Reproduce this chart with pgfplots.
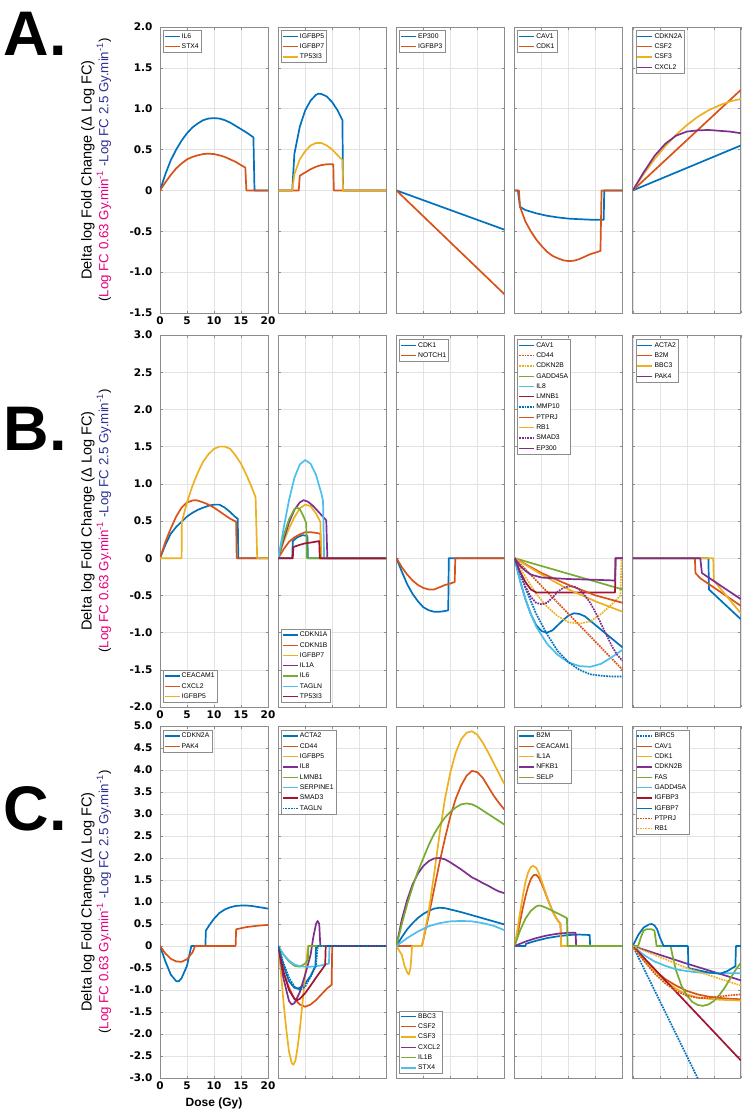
\documentclass[border=0pt]{standalone}
\usepackage{pgfplots}
\pgfplotsset{compat=1.18}
\usepackage{fontspec}
\setmainfont{Liberation Sans}
\newfontfamily\tickfont{DejaVu Sans}
\definecolor{c1}{RGB}{0,114,189}
\definecolor{c2}{RGB}{217,83,25}
\definecolor{c3}{RGB}{237,177,32}
\definecolor{c4}{RGB}{126,47,142}
\definecolor{c5}{RGB}{119,172,48}
\definecolor{c6}{RGB}{77,190,238}
\definecolor{c7}{RGB}{162,20,47}
\definecolor{mag}{RGB}{228,0,124}
\definecolor{nav}{RGB}{46,49,146}
\pgfplotsset{
  base/.style={scale only axis, width=108pt, xmin=0, xmax=20, xtick={0,5,10,15,20},
    xticklabels={}, yticklabels={}, grid=major,
    major grid style={draw=black!11, line width=0.45pt},
    axis line style={draw=black!45, line width=0.8pt},
    tick style={draw=black!45, line width=0.5pt}, major tick length=2.5pt, tick align=inside,
    anchor=north west,
    every axis plot/.append style={line width=1.7pt, line join=round},
    legend cell align=left,
    legend style={font=\fontsize{6.8}{7}\selectfont, draw=black!45, line width=0.45pt, fill=white,
      at={(0.025,0.988)}, anchor=north west, inner xsep=1pt, inner ysep=0.5pt,
      nodes={text height=5pt, text depth=1.3pt, inner ysep=2pt, inner xsep=1.5pt}},
    legend image code/.code={\draw[##1, line width=1.3pt] (0pt,0pt) -- (15pt,0pt);},
    ticklabel style={font=\tickfont\bfseries\fontsize{10.5}{12}\selectfont},
    yticklabel style={xshift=-4pt},
  },
  sw/.style={legend style={at={(0.025,0.012)}, anchor=south west}},
  rowA/.style={base, height=286pt, ymin=-1.5, ymax=2, ytick={-1.5,-1,-0.5,0,0.5,1,1.5,2}},
  rowB/.style={base, height=372pt, ymin=-2, ymax=3, ytick={-2,-1.5,-1,-0.5,0,0.5,1,1.5,2,2.5,3}},
  rowC/.style={base, height=352pt, ymin=-3, ymax=5, ytick={-3,-2.5,-2,-1.5,-1,-0.5,0,0.5,1,1.5,2,2.5,3,3.5,4,4.5,5}},
  xlab/.style={xticklabels={0,5,10,15,20}},
}
\begin{document}
\begin{tikzpicture}
\useasboundingbox (0,0) rectangle (744pt,-1114pt);
% ---------- labels ----------
\node[font=\bfseries\fontsize{63}{63}\selectfont, anchor=west] at (0pt,-34pt) {A.};
\node[font=\bfseries\fontsize{63}{63}\selectfont, anchor=west] at (0pt,-429pt) {B.};
\node[font=\bfseries\fontsize{63}{63}\selectfont, anchor=west] at (0pt,-809pt) {C.};
\foreach \yc in {170,521,902}{
  \node[rotate=90, font=\fontsize{14.5}{16}\selectfont] at (88pt,-\yc pt) {Delta log Fold Change (Δ Log FC)};
  \node[rotate=90, font=\fontsize{13.3}{15}\selectfont] at (104pt,-\yc pt) {(\textcolor{mag}{Log FC 0.63 Gy.min\textsuperscript{-1}} \textcolor{nav}{-Log FC 2.5 Gy.min\textsuperscript{-1}})};
}
\node[font=\bfseries\fontsize{12}{14}\selectfont] at (214pt,-1103pt) {Dose (Gy)};
% ================= ROW A =================
\begin{axis}[rowA, xlab, at={(160pt,-27pt)}, yticklabels={-1.5,-1.0,-0.5,0,0.5,1.0,1.5,2.0}]
\addplot[c1] coordinates {(0,0)(1,0.2)(2,0.37)(3,0.5)(4,0.61)(5,0.7)(6,0.77)(7,0.82)(8,0.86)(9,0.88)(10,0.885)(11,0.88)(12,0.86)(13,0.83)(14,0.79)(15,0.75)(16,0.71)(17.3,0.65)(17.5,0)(20,0)};
\addplot[c2] coordinates {(0,0)(1,0.1)(2,0.19)(3,0.27)(4,0.33)(5,0.38)(6,0.41)(7,0.43)(8,0.445)(9,0.45)(10,0.445)(11,0.43)(12,0.41)(13,0.38)(14,0.35)(15,0.31)(15.8,0.28)(16,0)(20,0)};
\legend{IL6,STX4}
\end{axis}
\begin{axis}[rowA, at={(278.2pt,-27pt)}]
\addplot[c1] coordinates {(0,0)(2.6,0)(3,0.45)(4,0.78)(5,0.98)(6,1.1)(7,1.17)(7.5,1.185)(8,1.18)(9,1.15)(10,1.08)(11,0.98)(11.9,0.86)(12,0)(20,0)};
\addplot[c2] coordinates {(0,0)(3.8,0)(4,0.18)(5,0.22)(6,0.26)(7,0.29)(8,0.31)(9,0.32)(10.2,0.32)(10.3,0)(20,0)};
\addplot[c3] coordinates {(0,0)(2.6,0)(3,0.2)(4,0.38)(5,0.48)(6,0.55)(7,0.58)(8,0.58)(9,0.55)(10,0.5)(11,0.43)(11.9,0.37)(12,0)(20,0)};
\legend{IGFBP5,IGFBP7,TP53I3}
\end{axis}
\begin{axis}[rowA, at={(396.4pt,-27pt)}]
\addplot[c1] coordinates {(0,0)(20,-0.48)};
\addplot[c2] coordinates {(0,0)(20,-1.27)};
\legend{EP300,IGFBP3}
\end{axis}
\begin{axis}[rowA, at={(514.6pt,-27pt)}]
\addplot[c1] coordinates {(0,0)(0.6,0)(1,-0.2)(2,-0.24)(4,-0.28)(6,-0.31)(8,-0.33)(10,-0.345)(12,-0.352)(14,-0.358)(16.5,-0.36)(16.6,0)(20,0)};
\addplot[c2] coordinates {(0,0)(0.8,0)(1,-0.2)(2,-0.38)(3,-0.5)(4,-0.6)(5,-0.68)(6,-0.75)(7,-0.8)(8,-0.83)(9,-0.855)(10,-0.865)(11,-0.86)(12,-0.84)(13,-0.81)(14,-0.78)(15,-0.76)(15.9,-0.74)(16.1,0)(20,0)};
\legend{CAV1,CDK1}
\end{axis}
\begin{axis}[rowA, at={(632.8pt,-27pt)}]
\addplot[c1] coordinates {(0,0)(20,0.55)};
\addplot[c2] coordinates {(0,0)(20,1.23)};
\addplot[c3] coordinates {(0,0)(2,0.2)(4,0.38)(6,0.54)(8,0.68)(10,0.8)(12,0.9)(14,0.98)(16,1.04)(18,1.09)(20,1.12)};
\addplot[c4] coordinates {(0,0)(2,0.22)(4,0.42)(6,0.57)(8,0.67)(10,0.72)(12,0.735)(14,0.74)(16,0.73)(18,0.72)(20,0.7)};
\legend{CDKN2A,CSF2,CSF3,CXCL2}
\end{axis}
% ================= ROW B =================
\begin{axis}[rowB, xlab, sw, at={(160pt,-335pt)}, yticklabels={-2.0,-1.5,-1.0,-0.5,0,0.5,1.0,1.5,2.0,2.5,3.0}]
\addplot[c1] coordinates {(0,0)(1,0.18)(2,0.33)(3,0.42)(4,0.49)(5,0.56)(6,0.61)(7,0.65)(8,0.68)(9,0.705)(10,0.72)(11,0.72)(12,0.68)(13,0.62)(14,0.55)(14.4,0.53)(14.5,0)(20,0)};
\addplot[c2] coordinates {(0,0)(1,0.22)(2,0.4)(3,0.56)(4,0.68)(5,0.75)(6,0.775)(6.5,0.78)(7,0.775)(8,0.75)(9,0.72)(10,0.68)(11,0.63)(12,0.58)(13,0.53)(14.1,0.49)(14.2,0)(20,0)};
\addplot[c3] coordinates {(0,0)(4,0)(4.05,0.49)(5,0.75)(6,0.97)(7,1.15)(8,1.3)(9,1.4)(10,1.47)(11,1.5)(12,1.5)(13,1.47)(14,1.38)(15,1.27)(16,1.12)(17,0.95)(17.7,0.82)(18,0)(20,0)};
\legend{CEACAM1,CXCL2,IGFBP5}
\end{axis}
\begin{axis}[rowB, sw, at={(278.2pt,-335pt)}]
\addplot[c1] coordinates {(0,0)(2.6,0)(2.7,0.23)(3.5,0.28)(4.5,0.31)(5.4,0.3)(5.5,0)(20,0)};
\addplot[c2] coordinates {(0,0)(1,0.12)(2,0.22)(3,0.28)(4,0.32)(5,0.35)(6,0.35)(7,0.34)(7.8,0.33)(7.9,0)(20,0)};
\addplot[c3] coordinates {(0,0)(1,0.22)(2,0.4)(3,0.55)(4,0.67)(5,0.72)(6,0.7)(7,0.6)(7.8,0.49)(8,0)(20,0)};
\addplot[c4] coordinates {(0,0)(1,0.25)(2,0.48)(3,0.65)(4,0.75)(4.7,0.78)(5.5,0.76)(6.5,0.7)(7.5,0.62)(8.9,0.51)(9.1,0)(20,0)};
\addplot[c5] coordinates {(0,0)(1,0.3)(2,0.52)(3,0.66)(3.5,0.68)(4,0.66)(4.7,0.56)(5.2,0.47)(5.3,0)(20,0)};
\addplot[c6] coordinates {(0,0)(1,0.4)(2,0.78)(3,1.08)(4,1.26)(5,1.32)(6,1.27)(7,1.12)(8,0.87)(8.3,0.77)(8.5,0)(20,0)};
\addplot[c7] coordinates {(0,0)(2.7,0)(2.8,0.15)(4,0.18)(5,0.2)(6,0.21)(7.6,0.23)(7.7,0)(20,0)};
\legend{CDKN1A,CDKN1B,IGFBP7,IL1A,IL6,TAGLN,TP53I3}
\end{axis}
\begin{axis}[rowB, at={(396.4pt,-335pt)}]
\addplot[c1] coordinates {(0,0)(1,-0.18)(2,-0.35)(3,-0.48)(4,-0.58)(5,-0.66)(6,-0.7)(7,-0.72)(8,-0.72)(9,-0.71)(9.6,-0.7)(9.7,0)(20,0)};
\addplot[c2] coordinates {(0,0)(1,-0.12)(2,-0.22)(3,-0.3)(4,-0.36)(5,-0.4)(6,-0.42)(7,-0.42)(8,-0.39)(9,-0.36)(10,-0.34)(10.8,-0.32)(10.9,0)(20,0)};
\legend{CDK1,NOTCH1}
\end{axis}
\begin{axis}[rowB, at={(514.6pt,-335pt)}]
\addplot[c1] coordinates {(0,0)(1,-0.3)(2,-0.55)(3,-0.75)(4,-0.9)(5,-0.98)(6,-1.0)(7,-0.97)(8,-0.9)(9,-0.83)(10,-0.77)(11,-0.74)(12,-0.75)(13,-0.78)(14,-0.84)(15,-0.9)(16,-0.96)(17,-1.02)(18,-1.08)(19,-1.14)(20,-1.2)};
\addplot[c2, densely dotted] coordinates {(0,0)(20,-1.5)};
\addplot[c3, densely dotted] coordinates {(0,0)(2,-0.25)(4,-0.48)(6,-0.65)(8,-0.78)(10,-0.86)(12,-0.88)(14,-0.85)(16,-0.75)(18,-0.62)(19.6,-0.5)(19.8,0)(20,0)};
\addplot[c5] coordinates {(0,0)(20,-0.42)};
\addplot[c6] coordinates {(0,0)(1,-0.3)(2,-0.55)(3,-0.75)(4,-0.92)(6,-1.15)(8,-1.3)(10,-1.4)(12,-1.45)(14,-1.46)(16,-1.42)(18,-1.33)(20,-1.23)};
\addplot[c7] coordinates {(0,0)(1,-0.18)(2,-0.32)(3,-0.42)(4,-0.46)(5,-0.46)(18.6,-0.46)(18.7,0)(20,0)};
\addplot[c1, densely dotted] coordinates {(0,0)(2,-0.4)(4,-0.75)(6,-1.02)(8,-1.25)(10,-1.4)(12,-1.5)(14,-1.56)(16,-1.58)(18,-1.59)(20,-1.59)};
\addplot[c2] coordinates {(0,0)(5,-0.2)(10,-0.36)(15,-0.5)(20,-0.6)};
\addplot[c3] coordinates {(0,0)(5,-0.22)(10,-0.42)(15,-0.58)(20,-0.72)};
\addplot[c4, densely dotted] coordinates {(0,0)(1,-0.2)(2,-0.38)(3,-0.52)(4,-0.6)(5,-0.62)(6,-0.6)(7,-0.53)(8,-0.45)(9,-0.4)(10,-0.38)(11,-0.38)(12,-0.42)(13,-0.5)(14,-0.6)(15,-0.73)(16,-0.88)(17,-1.03)(18,-1.18)(19,-1.3)(20,-1.38)};
\addplot[c4] coordinates {(0,0)(1,-0.1)(2,-0.17)(3,-0.22)(5,-0.26)(10,-0.28)(15,-0.29)(18.6,-0.3)(18.7,0)(20,0)};
\legend{CAV1,CD44,CDKN2B,GADD45A,IL8,LMNB1,MMP10,PTPRJ,RB1,SMAD3,EP300}
\end{axis}
\begin{axis}[rowB, at={(632.8pt,-335pt)}]
\addplot[c1] coordinates {(0,0)(14,0)(14.1,-0.42)(20,-0.82)};
\addplot[c2] coordinates {(0,0)(11.5,0)(11.6,-0.2)(12.5,-0.27)(20,-0.64)};
\addplot[c3] coordinates {(0,0)(14.9,0)(15,-0.3)(20,-0.74)};
\addplot[c4] coordinates {(0,0)(12.5,0)(12.8,-0.2)(20,-0.55)};
\legend{ACTA2,B2M,BBC3,PAK4}
\end{axis}
% ================= ROW C =================
\begin{axis}[rowC, xlab, at={(160pt,-726pt)}, yticklabels={-3.0,-2.5,-2.0,-1.5,-1.0,-0.5,0,0.5,1.0,1.5,2.0,2.5,3.0,3.5,4.0,4.5,5.0}]
\addplot[c1] coordinates {(0,0)(1,-0.35)(2,-0.65)(3,-0.8)(3.5,-0.8)(4,-0.73)(5,-0.45)(5.8,0)(8.4,0)(8.5,0.35)(9,0.45)(10,0.62)(11,0.75)(12,0.83)(13,0.88)(14,0.91)(15,0.92)(16,0.92)(17,0.91)(18,0.89)(19,0.87)(20,0.85)};
\addplot[c2] coordinates {(0,0)(1,-0.17)(2,-0.29)(3,-0.35)(4,-0.36)(5,-0.3)(6,-0.15)(6.5,0)(14,0)(14.1,0.38)(16,0.43)(18,0.46)(20,0.48)};
\legend{CDKN2A,PAK4}
\end{axis}
\begin{axis}[rowC, at={(278.2pt,-726pt)}]
\addplot[c1] coordinates {(0,0)(1,-0.45)(2,-0.8)(3,-0.95)(3.5,-0.97)(4,-0.95)(5,-0.85)(6,-0.68)(6.9,-0.45)(7,0)(20,0)};
\addplot[c2] coordinates {(0,0)(1,-0.6)(2,-0.95)(3,-1.2)(4,-1.33)(5,-1.38)(6,-1.33)(7,-1.23)(8,-1.1)(9,-0.97)(9.9,-0.88)(10,0)(20,0)};
\addplot[c3] coordinates {(0,0)(0.5,-0.6)(1,-1.3)(1.5,-1.9)(2,-2.4)(2.5,-2.66)(2.8,-2.7)(3.2,-2.6)(3.6,-2.3)(4,-1.9)(4.5,-1.3)(5,-0.65)(5.5,0)(20,0)};
\addplot[c4] coordinates {(0,0)(1,-0.75)(2,-1.25)(2.5,-1.33)(3,-1.3)(4,-1.05)(5,-0.65)(6,-0.2)(6.5,0.2)(7,0.5)(7.3,0.57)(7.6,0.5)(7.8,0)(20,0)};
\addplot[c5] coordinates {(0,0)(1,-0.2)(2,-0.35)(3,-0.45)(4,-0.47)(5,-0.4)(5.5,-0.3)(5.6,0)(20,0)};
\addplot[c6] coordinates {(0,0)(1,-0.2)(2,-0.33)(3,-0.42)(4,-0.46)(5,-0.47)(6,-0.47)(7,-0.46)(8,-0.44)(9,-0.41)(9.4,-0.4)(9.5,0)(20,0)};
\addplot[c7] coordinates {(0,0)(1,-0.6)(2,-1.0)(3,-1.2)(3.5,-1.23)(4,-1.2)(5,-1.07)(6,-0.9)(7,-0.72)(8,-0.55)(8.7,-0.43)(8.8,0)(20,0)};
\addplot[c1, densely dotted] coordinates {(0,0)(1,-0.4)(2,-0.72)(3,-0.92)(4,-1.0)(5,-0.92)(6,-0.7)(7,-0.45)(7.3,0)(20,0)};
\legend{ACTA2,CD44,IGFBP5,IL8,LMNB1,SERPINE1,SMAD3,TAGLN}
\end{axis}
\begin{axis}[rowC, sw, at={(396.4pt,-726pt)}]
\addplot[c1] coordinates {(0,0)(1,0.2)(2,0.38)(3,0.52)(4,0.64)(5,0.73)(6,0.8)(7,0.85)(8,0.87)(9,0.86)(10,0.83)(12,0.77)(14,0.7)(16,0.63)(18,0.56)(20,0.49)};
\addplot[c2] coordinates {(0,0)(4.7,0)(5,0.15)(6,0.7)(7,1.3)(8,1.9)(9,2.45)(10,2.95)(11,3.35)(12,3.65)(13,3.87)(14,3.98)(15,3.95)(16,3.82)(17,3.62)(18,3.42)(19,3.25)(20,3.1)};
\addplot[c3] coordinates {(0,0)(1,-0.2)(1.5,-0.45)(2,-0.6)(2.3,-0.65)(2.6,-0.5)(2.8,-0.2)(2.9,0)(4.7,0)(5,0.15)(6,0.8)(7,1.65)(8,2.55)(9,3.35)(10,3.95)(11,4.4)(12,4.7)(13,4.85)(14,4.88)(15,4.8)(16,4.62)(17,4.4)(18,4.16)(19,3.92)(20,3.68)};
\addplot[c4] coordinates {(0,0)(1,0.6)(2,1.05)(3,1.4)(4,1.65)(5,1.82)(6,1.93)(7,1.99)(8,2.0)(9,1.97)(10,1.9)(11,1.82)(12,1.74)(13,1.65)(14,1.56)(15,1.5)(16,1.43)(17,1.37)(18,1.3)(19,1.24)(20,1.2)};
\addplot[c5] coordinates {(0,0)(1,0.5)(2,0.95)(3,1.35)(4,1.7)(5,2.0)(6,2.3)(7,2.55)(8,2.75)(9,2.92)(10,3.05)(11,3.15)(12,3.22)(13,3.24)(14,3.22)(15,3.16)(16,3.08)(17,3.0)(18,2.92)(19,2.84)(20,2.76)};
\addplot[c6] coordinates {(0,0)(2,0.18)(4,0.33)(6,0.45)(8,0.52)(10,0.56)(12,0.57)(14,0.56)(16,0.52)(18,0.46)(20,0.36)};
\legend{BBC3,CSF2,CSF3,CXCL2,IL1B,STX4}
\end{axis}
\begin{axis}[rowC, at={(514.6pt,-726pt)}]
\addplot[c1] coordinates {(0,0)(2,0)(2.1,0.05)(4,0.12)(6,0.18)(8,0.22)(10,0.25)(12,0.26)(13.9,0.25)(14,0)(20,0)};
\addplot[c2] coordinates {(0,0)(0.5,0.25)(1,0.55)(1.5,0.85)(2,1.12)(2.5,1.35)(3,1.52)(3.5,1.61)(4,1.62)(4.5,1.55)(5,1.42)(5.5,1.27)(6,1.1)(6.5,0.95)(7,0.8)(7.5,0.68)(8,0.58)(8.5,0.5)(8.6,0)(20,0)};
\addplot[c3] coordinates {(0,0)(0.5,0.35)(1,0.75)(1.5,1.12)(2,1.45)(2.5,1.67)(3,1.79)(3.4,1.82)(4,1.78)(4.5,1.65)(5,1.48)(5.5,1.3)(6,1.12)(6.5,0.95)(7,0.8)(7.5,0.68)(8,0.58)(8.5,0.5)(8.6,0)(20,0)};
\addplot[c4] coordinates {(0,0)(2,0.1)(4,0.18)(6,0.24)(8,0.28)(10,0.3)(11.3,0.3)(11.4,0)(20,0)};
\addplot[c5] coordinates {(0,0)(1,0.35)(2,0.62)(3,0.8)(4,0.9)(4.5,0.92)(5,0.91)(6,0.86)(7,0.8)(8,0.74)(9,0.68)(9.7,0.63)(9.8,0)(20,0)};
\legend{B2M,CEACAM1,IL1A,NFKB1,SELP}
\end{axis}
\begin{axis}[rowC, at={(632.8pt,-726pt)}]
\addplot[c1, densely dotted] coordinates {(0,0)(20,-5)};
\addplot[c2] coordinates {(0,0)(2,-0.3)(4,-0.55)(6,-0.75)(8,-0.9)(10,-1.02)(12,-1.1)(14,-1.15)(16,-1.18)(18,-1.2)(20,-1.21)};
\addplot[c3] coordinates {(0,0)(2,-0.3)(4,-0.57)(6,-0.8)(8,-0.97)(10,-1.1)(12,-1.17)(14,-1.2)(16,-1.22)(18,-1.23)(20,-1.24)};
\addplot[c4] coordinates {(0,0)(5,-0.2)(10,-0.4)(15,-0.59)(20,-0.78)};
\addplot[c5] coordinates {(0,0)(1,0)(1.5,0.2)(2,0.35)(2.5,0.38)(3.5,0.38)(4,0.35)(4.3,0.1)(4.4,0)(7,0)(7.5,-0.3)(8,-0.55)(9,-0.9)(10,-1.12)(11,-1.27)(12,-1.34)(13,-1.36)(14,-1.33)(15,-1.25)(16,-1.12)(17,-0.95)(18,-0.75)(19,-0.55)(20,-0.38)};
\addplot[c6] coordinates {(0,0)(2,-0.2)(4,-0.35)(6,-0.45)(8,-0.53)(10,-0.57)(12,-0.6)(14,-0.61)(16,-0.62)(18,-0.62)(20,-0.62)};
\addplot[c7] coordinates {(0,0)(20,-2.6)};
\addplot[c1] coordinates {(0,0)(1,0.25)(2,0.42)(3,0.49)(3.5,0.5)(4,0.47)(4.5,0.38)(5,0.2)(5.7,0)(10.2,0)(10.3,-0.5)(12,-0.55)(14,-0.6)(16.2,-0.63)(17.5,-0.57)(19,-0.46)(19.1,0)(20,0)};
\addplot[c2, densely dotted] coordinates {(0,0)(2,-0.33)(4,-0.62)(6,-0.85)(8,-1.02)(10,-1.13)(12,-1.18)(14,-1.18)(16,-1.15)(18,-1.12)(20,-1.1)};
\addplot[c3, densely dotted] coordinates {(0,0)(5,-0.25)(10,-0.5)(15,-0.7)(20,-0.9)};
\legend{BIRC5,CAV1,CDK1,CDKN2B,FAS,GADD45A,IGFBP3,IGFBP7,PTPRJ,RB1}
\end{axis}
\end{tikzpicture}
\end{document}
